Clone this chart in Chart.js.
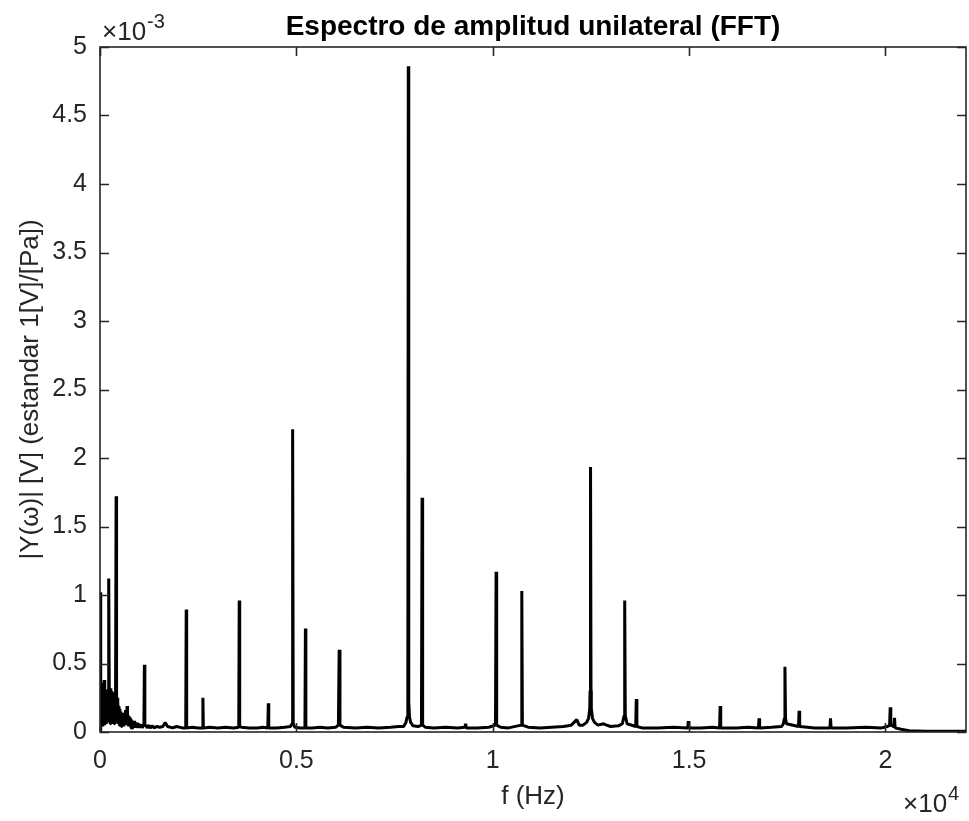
<!DOCTYPE html>
<html>
<head>
<meta charset="utf-8">
<title>Espectro de amplitud unilateral (FFT)</title>
<script src="https://cdn.jsdelivr.net/npm/chart.js@4/dist/chart.umd.min.js"></script>
<style>
  html, body { margin: 0; padding: 0; background: #ffffff; }
  canvas { display: block; }
</style>
</head>
<body>
<canvas id="fft" width="969" height="821"></canvas>
<script>
// Single-sided amplitude spectrum, amplitude in units of 1e-3 V
const freqHz = [
  0, 12, 24, 36, 48, 60, 72, 84, 96, 108, 120, 132, 144, 156, 168, 180, 192, 204,
  216, 228, 240, 252, 264, 276, 288, 300, 312, 324, 336, 348, 360, 372, 384, 396,
  410, 422, 434, 446, 458, 470, 482, 494, 506, 518, 530, 545, 560, 575, 590, 605,
  620, 635, 650, 665, 680, 690, 700, 715, 730, 745, 760, 775, 790, 805, 820, 840,
  860, 880, 900, 920, 940, 960, 980, 1000, 1025, 1050, 1075, 1100, 1118, 1130, 1142,
  1170, 1200, 1240, 1280, 1330, 1380, 1440, 1520, 1600, 1660, 1720, 1850, 1950, 2100,
  2183, 2195, 2207, 2350, 2500,
  2608, 2620, 2632, 2800, 3000, 3200, 3400,
  3533, 3545, 3557, 3600, 3800, 4000, 4150,
  4273, 4285, 4297, 4500, 4700, 4850,
  4890, 4905, 4920, 4960, 5100,
  5218, 5230, 5242, 5400, 5600, 5800, 6000,
  6070, 6090, 6110, 6200, 6500, 6800, 7100, 7400, 7600,
  7730, 7790, 7820, 7838, 7850, 7862, 7880, 7910, 7970, 8100,
  8185, 8200, 8215, 8280, 8500, 8800, 9100,
  9290, 9310, 9330, 9600, 9900,
  10070, 10085, 10100, 10200, 10400,
  10725, 10740, 10755, 10900, 11200, 11500, 11800, 12000, 12140, 12200,
  12300, 12390, 12440, 12470, 12478, 12490, 12502, 12510, 12540, 12590, 12680,
  12820, 12900, 13000, 13200,
  13300, 13345, 13360, 13375, 13420,
  13640, 13655, 13670, 13800, 14200, 14600,
  14965, 14980, 14995, 15300, 15600,
  15775, 15790, 15805, 16200, 16500,
  16765, 16780, 16795, 17100, 17350,
  17400, 17425, 17440, 17455, 17480,
  17785, 17800, 17815, 18200,
  18585, 18600, 18615, 19000, 19500, 19900, 20050,
  20105, 20120, 20135, 20215, 20230, 20245,
  20400, 20600, 21000, 21500, 22050
];

const amplitudeMilli = [
  0.00, 1.02, 0.10, 0.36, 0.06, 0.24, 0.04, 0.27, 0.08, 0.38, 0.05, 0.29, 0.09, 0.31, 0.06, 0.28, 0.10, 0.30,
  0.07, 1.12, 0.08, 0.31, 0.06, 0.32, 0.09, 0.30, 0.07, 0.29, 0.10, 0.28, 0.06, 0.27, 0.09, 0.26,
  1.72, 0.08, 0.25, 0.06, 0.22, 0.07, 0.19, 0.05, 0.17, 0.06, 0.15, 0.04, 0.14, 0.05, 0.13, 0.04,
  0.14, 0.05, 0.16, 0.06, 0.06, 0.19, 0.05, 0.12, 0.04, 0.11, 0.04, 0.10, 0.03, 0.09, 0.03, 0.08,
  0.03, 0.08, 0.03, 0.07, 0.03, 0.065, 0.03, 0.06, 0.03, 0.055, 0.03, 0.05, 0.04, 0.49, 0.04,
  0.05, 0.03, 0.05, 0.03, 0.045, 0.03, 0.04, 0.035, 0.04, 0.07, 0.04, 0.03, 0.04, 0.03,
  0.03, 0.895, 0.03, 0.035, 0.03,
  0.03, 0.25, 0.03, 0.035, 0.03, 0.035, 0.03,
  0.035, 0.96, 0.04, 0.035, 0.03, 0.03, 0.035,
  0.03, 0.21, 0.03, 0.03, 0.035, 0.04,
  0.06, 2.21, 0.06, 0.035, 0.03,
  0.03, 0.755, 0.03, 0.03, 0.035, 0.03, 0.035,
  0.05, 0.60, 0.05, 0.035, 0.03, 0.035, 0.03, 0.035, 0.04,
  0.04, 0.07, 0.11, 0.22, 4.86, 0.22, 0.11, 0.07, 0.045, 0.04,
  0.05, 1.71, 0.05, 0.035, 0.03, 0.035, 0.03,
  0.035, 0.06, 0.03, 0.03, 0.035,
  0.05, 1.17, 0.05, 0.035, 0.03,
  0.05, 1.03, 0.05, 0.035, 0.03, 0.035, 0.04, 0.05, 0.09, 0.05,
  0.05, 0.07, 0.10, 0.17, 0.30, 1.935, 0.30, 0.17, 0.10, 0.07, 0.05,
  0.06, 0.05, 0.04, 0.045,
  0.06, 0.12, 0.96, 0.12, 0.06,
  0.04, 0.24, 0.04, 0.03, 0.03, 0.035,
  0.03, 0.08, 0.03, 0.03, 0.035,
  0.03, 0.19, 0.03, 0.03, 0.035,
  0.03, 0.10, 0.03, 0.035, 0.04,
  0.06, 0.10, 0.477, 0.10, 0.06,
  0.04, 0.155, 0.04, 0.03,
  0.03, 0.10, 0.03, 0.03, 0.035, 0.03, 0.04,
  0.05, 0.18, 0.05, 0.04, 0.104, 0.03,
  0.02, 0.01, 0.005, 0.005, 0.005
];

const xTickValues = [0, 5000, 10000, 15000, 20000];
const xTickLabels = ['0', '0.5', '1', '1.5', '2'];
const yTickValues = [0, 0.5, 1, 1.5, 2, 2.5, 3, 3.5, 4, 4.5, 5];
const yTickLabels = ['0', '0.5', '1', '1.5', '2', '2.5', '3', '3.5', '4', '4.5', '5'];

const titleText = 'Espectro de amplitud unilateral (FFT)';
const xTitleText = 'f (Hz)';
const yTitleText = '|Y(\u03C9)| [V] (estandar 1[V]/[Pa])';

const FONT = "'Liberation Sans', Arial, Helvetica, sans-serif";
const AXIS_COLOR = '#262626';
const TICK_SIZE = 25;
const LABEL_SIZE = 26;
const TITLE_SIZE = 28;

const points = freqHz.map((f, i) => ({ x: f, y: amplitudeMilli[i] }));

// Box outline, inward tick marks on all four sides, and exponent labels
const axesBox = {
  id: 'axesBox',
  afterDatasetsDraw(chart) {
    const { ctx, chartArea: a, scales } = chart;
    const len = 9;
    ctx.save();
    ctx.strokeStyle = AXIS_COLOR;
    ctx.lineWidth = 1.6;
    ctx.beginPath();
    xTickValues.forEach(v => {
      const px = Math.round(scales.x.getPixelForValue(v)) + 0.5;
      ctx.moveTo(px, a.bottom); ctx.lineTo(px, a.bottom - len);
      ctx.moveTo(px, a.top); ctx.lineTo(px, a.top + len);
    });
    yTickValues.forEach(v => {
      const py = Math.round(scales.y.getPixelForValue(v)) + 0.5;
      ctx.moveTo(a.left, py); ctx.lineTo(a.left + len, py);
      ctx.moveTo(a.right, py); ctx.lineTo(a.right - len, py);
    });
    ctx.stroke();
    ctx.strokeRect(a.left, a.top, a.right - a.left, a.bottom - a.top);

    // multipliers: x10^-3 on the y axis, x10^4 on the x axis
    ctx.fillStyle = AXIS_COLOR;
    ctx.textBaseline = 'alphabetic';
    ctx.textAlign = 'left';
    const base = '\u00D710';
    ctx.font = `${TICK_SIZE + 1}px ${FONT}`;
    ctx.fillText(base, a.left + 2, 40);
    let w = ctx.measureText(base).width;
    ctx.font = `${Math.round(TICK_SIZE * 0.78)}px ${FONT}`;
    ctx.fillText('-3', a.left + 2 + w + 1, 28);

    ctx.font = `${TICK_SIZE + 1}px ${FONT}`;
    ctx.fillText(base, 903, 812);
    w = ctx.measureText(base).width;
    ctx.font = `${Math.round(TICK_SIZE * 0.78)}px ${FONT}`;
    ctx.fillText('4', 903 + w + 1, 800);
    ctx.restore();
  }
};

new Chart(document.getElementById('fft'), {
  type: 'line',
  data: {
    datasets: [{
      data: points,
      borderColor: '#000000',
      borderWidth: 3,
      borderJoinStyle: 'bevel',
      pointRadius: 0,
      tension: 0,
      fill: false
    }]
  },
  options: {
    responsive: false,
    animation: false,
    devicePixelRatio: 1,
    layout: { padding: { left: 0, right: 3, top: 0, bottom: 0 } },
    plugins: {
      legend: { display: false },
      tooltip: { enabled: false },
      title: {
        display: true,
        text: titleText,
        fullSize: false,
        color: '#000000',
        font: { family: FONT, size: TITLE_SIZE, weight: 'bold' },
        padding: { top: 10, bottom: 3.4 }
      }
    },
    scales: {
      x: {
        type: 'linear',
        min: 0,
        max: 22050,
        grid: { display: false, drawTicks: false },
        border: { display: false },
        afterBuildTicks: s => { s.ticks = xTickValues.map(v => ({ value: v })); },
        afterFit: s => { s.height = 89; },
        ticks: {
          padding: 14,
          color: AXIS_COLOR,
          maxRotation: 0,
          font: { family: FONT, size: TICK_SIZE },
          callback: v => xTickLabels[xTickValues.indexOf(v)]
        },
        title: {
          display: true,
          text: xTitleText,
          color: AXIS_COLOR,
          font: { family: FONT, size: LABEL_SIZE },
          padding: { top: 0, bottom: 9 }
        }
      },
      y: {
        type: 'linear',
        min: 0,
        max: 5,
        grid: { display: false, drawTicks: false },
        border: { display: false },
        afterBuildTicks: s => { s.ticks = yTickValues.map(v => ({ value: v })); },
        afterFit: s => { s.width = 100; },
        ticks: {
          padding: 13,
          color: AXIS_COLOR,
          font: { family: FONT, size: TICK_SIZE },
          callback: v => yTickLabels[yTickValues.indexOf(v)]
        },
        title: {
          display: true,
          text: yTitleText,
          color: AXIS_COLOR,
          font: { family: FONT, size: LABEL_SIZE },
          padding: { top: 15, bottom: 0 }
        }
      }
    }
  },
  plugins: [axesBox]
});
</script>
</body>
</html>
